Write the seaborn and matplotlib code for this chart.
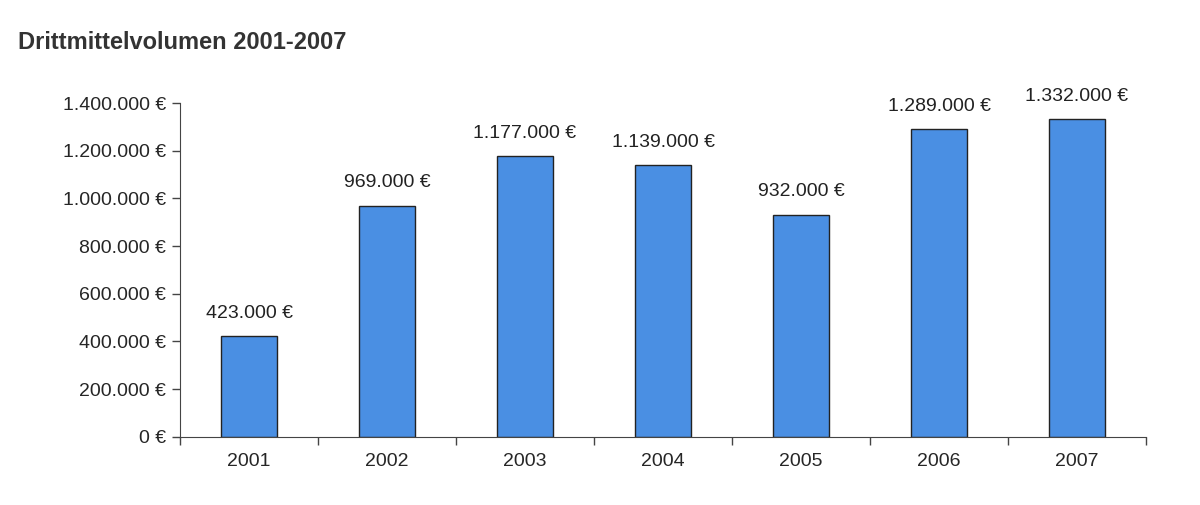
import matplotlib
matplotlib.use("Agg")
import matplotlib.pyplot as plt
import matplotlib.ticker as mticker
import seaborn as sns
import pandas as pd

# Drittmittelvolumen je Jahr
years = ["2001", "2002", "2003", "2004", "2005", "2006", "2007"]
volumes = [423000, 969000, 1177000, 1139000, 932000, 1289000, 1332000]

df = pd.DataFrame({"Jahr": years, "Volumen": volumes})

sns.set_style("white")
plt.rcParams['font.family'] = ['Liberation Sans', 'DejaVu Sans']


def eur(v, pos=None):
    return f"{int(v):,} €".replace(",", ".")


fig = plt.figure(figsize=(12, 5.05), dpi=100)
ax = fig.add_axes([0.15, 0.135, 0.805, 0.661])

sns.barplot(data=df, x="Jahr", y="Volumen", color="#4a8fe3",
            saturation=1, width=0.4, edgecolor="#222222", linewidth=1, ax=ax)

for i, v in enumerate(volumes):
    ax.text(i, v + 60000, eur(v), ha="center", va="bottom", fontsize=14,
            color="#222222", clip_on=False)

ax.set_ylim(0, 1400000)
ax.set_xlim(-0.5, len(years) - 0.5)
ax.yaxis.set_major_locator(mticker.MultipleLocator(200000))
ax.yaxis.set_major_formatter(mticker.FuncFormatter(eur))
ax.set_xticks([i + 0.5 for i in range(-1, len(years))], minor=True)
ax.tick_params(axis="x", which="major", bottom=False, length=0, labelsize=14, pad=12)
ax.tick_params(axis="x", which="minor", bottom=True, length=6, width=1,
               direction="out", color="#444444")
ax.tick_params(axis="y", left=True, length=6, width=1, direction="out",
               labelsize=14, color="#444444", pad=4)
ax.set_xlabel("")
ax.set_ylabel("")
for s in ["top", "right"]:
    ax.spines[s].set_visible(False)
for s in ["left", "bottom"]:
    ax.spines[s].set_color("#444444")

fig.text(0.015, 0.915, "Drittmittelvolumen 2001-2007", fontsize=17,
         fontweight="bold", color="#333333", ha="left", va="center")

fig.savefig("out.png", dpi=100)
